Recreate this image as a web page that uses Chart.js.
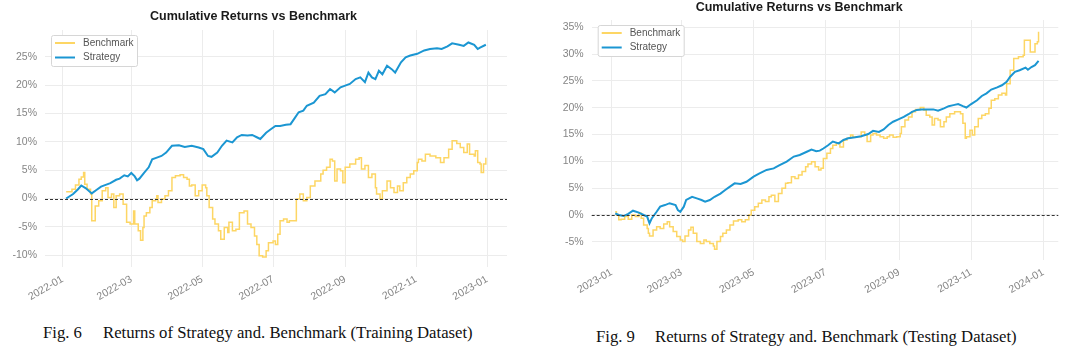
<!DOCTYPE html>
<html>
<head>
<meta charset="utf-8">
<script src="https://cdn.jsdelivr.net/npm/chart.js@4.4.1/dist/chart.umd.min.js"></script>
<style>
  html, body { margin:0; padding:0; background:#fff; }
  body { width:1080px; height:358px; position:relative; overflow:hidden; }
  canvas { position:absolute; top:0; }
  .cap { position:absolute; font-family:"Liberation Serif","Times New Roman",serif; font-size:16.7px; line-height:18px; color:#111; white-space:nowrap; }
</style>
</head>
<body>
<canvas id="trainChart" width="518" height="310" style="left:0"></canvas>
<canvas id="testChart" width="540" height="300" style="left:540px"></canvas>

<div class="cap" style="left:43px; top:324px">Fig. 6</div>
<div class="cap" style="left:103px; top:324px">Returns of Strategy and. Benchmark (Training Dataset)</div>
<div class="cap" style="left:596px; top:328px">Fig. 9</div>
<div class="cap" style="left:655px; top:328px">Returns of Strategy and. Benchmark (Testing Dataset)</div>

<script>
/* ========= Datos (días desde el 1 de enero, retorno acumulado en %) ========= */
const TITLE = 'Cumulative Returns vs Benchmark';
const SERIES_LABELS = ['Benchmark', 'Strategy'];

// --- Fig. 6: 2022 (training)
const trainTickDays   = [0, 59, 120, 181, 243, 304, 365];
const trainTickLabels = ['2022-01','2022-03','2022-05','2022-07','2022-09','2022-11','2023-01'];
const trainYTicks     = [-10, -5, 0, 5, 10, 15, 20, 25];

const trainStrategyDays = [3,9,13,16,20,25,29,33,37,41,46,49,53,56,59,62,64,66,70,74,77,81,85,89,94,100,105,111,117,121,125,128,133,137,141,146,150,154,159,163,167,170,175,179,183,187,192,196,199,203,207,210,216,221,226,230,234,239,243,247,252,256,260,263,266,269,272,275,279,283,286,291,295,299,305,311,316,322,326,331,335,341,345,349,354,357,359,364];
const trainStrategy     = [0,0.8,1.6,2.3,1.8,0.9,1.5,2.1,2.4,2.7,3.3,3.5,4.1,3.9,4.5,3.9,3.2,3.5,4.5,5.5,6.9,7.2,7.5,8.1,9.3,9.4,9.1,9.3,9.0,8.7,7.5,7.35,8.1,9.3,10.2,9.9,10.8,11.2,11.1,11.2,10.8,10.5,11.6,12.2,12.8,12.8,13.0,13.1,14.0,15.2,15.5,16.35,16.9,18.1,18.4,19.3,18.7,19.6,19.9,20.2,21.05,21.35,20.5,22.2,21.35,21.05,22.5,21.9,23.4,22.8,22.2,24.0,24.9,25.2,25.5,26.1,26.35,26.5,26.35,26.8,27.35,27.1,26.9,27.5,27.1,26.35,26.6,27.1];

const trainBenchDays = [3,8,11,14,16,18,19,21,24,25,27,28,31,34,37,39,42,44,46,49,52,55,58,61,62,65,67,69,70,72,75,77,80,81,82,85,88,91,94,97,101,104,107,109,111,114,117,120,123,124,126,129,131,134,136,139,142,143,146,149,152,156,159,162,165,167,169,172,175,177,181,183,185,187,190,193,195,199,201,204,207,210,213,217,222,224,227,230,232,234,236,239,241,243,247,252,255,257,260,263,266,269,270,273,275,279,282,285,288,290,293,296,299,302,305,306,309,312,316,321,325,328,332,335,339,342,345,348,350,354,355,357,359,360,362,364];
const trainBench     = [1.2,1.65,2.4,3.4,3.8,4.6,2.5,1.65,0.8,-3.9,-3.9,-1.3,-0.4,1.35,1.9,0.2,0.8,-1.6,0.5,0.8,-1.0,-4.2,-4.5,-2.2,-4.5,-5.7,-7.35,-5.1,-3.1,-2.5,-1.6,-0.4,-0.1,0.5,-0.7,-0.1,0.5,1.35,3.7,4.0,4.2,3.7,3.4,2.2,2.4,0.5,1.35,2.4,1.9,0.5,-1.6,-3.6,-4.5,-5.7,-7.2,-5.1,-6.0,-4.2,-5.7,-5.4,-2.5,-2.2,-4.5,-5.1,-6.6,-8.1,-10.1,-10.3,-9.2,-7.8,-7.5,-8.1,-6.3,-3.9,-3.6,-4.2,-3.9,-3.9,-0.1,0.8,-0.4,0.2,2.2,3.1,4.3,5.0,5.5,6.9,6.6,3.1,5.2,4.9,2.8,5.5,6.1,6.9,7.2,5.2,5.8,3.7,4.3,1.9,0.8,-0.1,1.35,3.1,1.9,1.05,2.2,1.35,2.8,3.7,4.3,4.9,6.35,6.9,6.6,7.8,7.5,7.2,6.35,7.2,8.7,10.2,9.7,9.0,8.1,9.6,7.8,7.5,8.4,6.35,6.1,4.6,6.1,7.2];

// --- Fig. 9: 2023 (testing)
const testTickDays   = [0, 59, 120, 181, 243, 304, 365];
const testTickLabels = ['2023-01','2023-03','2023-05','2023-07','2023-09','2023-11','2024-01'];
const testYTicks     = [-5, 0, 5, 10, 15, 20, 25, 30, 35];

const testStrategyDays = [3,6,10,14,18,23,27,30,32,34,36,38,41,45,49,54,56,58,61,63,68,72,76,79,83,87,92,96,100,104,109,114,120,125,131,137,142,148,154,159,165,169,173,176,179,183,187,192,196,200,206,211,217,221,226,230,234,238,242,247,251,254,258,262,268,272,276,281,285,289,293,297,300,304,309,313,317,321,326,330,334,337,341,345,350,352,355,358,361];
const testStrategy     = [0.3,0,-0.2,0.2,0.8,0.45,0,-0.3,-1.55,-0.6,0,0.6,1.55,1.85,2.2,1.85,0.9,0.6,1.55,2.8,3.4,3.1,2.8,2.5,2.8,3.4,4.0,4.65,5.3,5.9,5.8,6.2,7.15,7.75,8.4,8.7,9.3,9.95,10.9,11.2,11.8,12.2,11.9,12.0,12.4,13.0,13.7,13.35,14.0,14.3,14.5,14.7,15.1,15.7,15.5,15.95,16.8,17.4,17.8,18.3,18.8,19.25,19.6,19.7,19.7,19.7,19.45,19.9,20.3,20.5,20.7,20.3,20.05,20.7,21.4,22.2,22.7,23.4,23.8,24.2,24.85,25.8,26.7,27.0,27.5,27.1,27.6,27.95,28.75];

const testBenchDays = [3,4,6,8,11,14,17,20,23,25,27,30,31,32,35,38,41,44,47,49,52,55,58,60,62,65,67,69,72,75,78,80,83,86,87,89,92,94,97,100,103,107,110,113,116,118,121,124,127,130,133,135,138,141,144,147,149,152,155,158,161,164,166,169,172,175,177,179,182,185,187,190,193,196,199,202,204,207,211,214,216,219,221,224,227,230,233,235,238,241,244,245,248,251,254,257,261,264,266,269,271,273,276,278,281,283,286,290,295,297,299,300,303,305,307,310,313,316,319,321,324,327,330,333,334,337,340,344,348,349,352,354,357,358,360,361];
const testBench     = [0.6,0,-0.9,-0.8,-0.3,-0.8,0,-0.3,0.3,-0.6,-1.85,-2.5,-3.4,-3.9,-2.8,-2.2,-2.5,-1.7,-1.25,-2.2,-3.1,-4.0,-4.65,-4.95,-3.9,-2.8,-2.3,-3.4,-4.95,-5.3,-4.65,-4.95,-5.3,-5.8,-6.4,-4.95,-4.0,-3.4,-2.8,-1.85,-1.1,-0.9,-1.25,-0.9,0,0.9,1.55,2.2,2.8,2.5,3.4,3.7,2.5,4.0,5.0,5.9,6.0,7.15,6.8,7.45,8.1,9.0,9.5,9.95,9.0,8.4,8.7,10.55,11.5,12.4,13.0,13.35,12.7,14.0,14.3,14.9,14.6,14.6,15.5,14.9,13.7,14.9,15.2,14.9,14.6,14.3,14.6,14.9,14.5,14.6,15.2,16.45,17.7,18.3,19.25,19.7,20.05,19.6,18.6,18.3,16.8,18.0,17.7,16.45,17.4,18.3,18.9,19.25,18.9,17.1,14.3,14.6,15.8,14.9,16.45,18.0,18.6,18.9,19.9,21.4,21.7,22.4,22.7,22.4,24.5,27.0,29.2,29.5,29.8,32.6,32.6,30.4,30.4,31.95,32.3,34.2];

/* ========= Estilos ========= */
const FONT = '"Liberation Sans", Arial, sans-serif';
const BLUE = '#1b96d2';
const YELLOW = '#fdd664';
const GRID = '#ececec';
const TICK = '#858585';

const pts = (xs, ys) => xs.map((x, i) => ({ x, y: ys[i] }));

/* ========= Plugins: línea cero y leyenda dentro del panel ========= */
const zeroLine = {
  id: 'zeroLine',
  afterDatasetsDraw(chart){
    const { ctx, chartArea: a, scales: { y } } = chart;
    const py = Math.round(y.getPixelForValue(0)) + 0.5;
    ctx.save();
    ctx.strokeStyle = '#333';
    ctx.lineWidth = 1;
    ctx.setLineDash([3, 2]);
    ctx.beginPath(); ctx.moveTo(a.left, py); ctx.lineTo(a.right, py); ctx.stroke();
    ctx.restore();
  }
};

const panelLegend = {
  id: 'panelLegend',
  afterDraw(chart, args, opts){
    const { ctx, chartArea: a } = chart;
    const x = a.left + opts.dx, y = a.top + opts.dy;
    ctx.save();
    ctx.fillStyle = '#fff';
    ctx.strokeStyle = '#d6d6d6';
    ctx.lineWidth = 1;
    ctx.beginPath(); ctx.roundRect(x + 0.5, y + 0.5, opts.w, opts.h, 2); ctx.fill(); ctx.stroke();
    ctx.font = '10px ' + FONT;
    ctx.textBaseline = 'middle';
    chart.data.datasets.forEach((ds, i) => {
      const ly = y + opts.row0 + i * opts.rowGap;
      ctx.strokeStyle = ds.borderColor;
      ctx.lineWidth = 2;
      ctx.beginPath(); ctx.moveTo(x + 4, ly); ctx.lineTo(x + 24, ly); ctx.stroke();
      ctx.fillStyle = '#555';
      ctx.fillText(ds.label, x + 32, ly);
    });
    ctx.restore();
  }
};

/* ========= Construcción ========= */
function drawReturnsChart(id, o){
  const ctx = document.getElementById(id).getContext('2d');
  return new Chart(ctx, {
    type: 'line',
    data: {
      datasets: [
        { label: SERIES_LABELS[0], data: pts(o.benchDays, o.bench), borderColor: YELLOW,
          borderWidth: 1.5, pointRadius: 0, stepped: true, order: 1 },
        { label: SERIES_LABELS[1], data: pts(o.stratDays, o.strat), borderColor: BLUE,
          borderWidth: 2, pointRadius: 0, tension: 0, order: 0 }
      ]
    },
    options: {
      responsive: false,
      animation: false,
      layout: { padding: { left: 0, right: o.padRight, top: 0, bottom: 0 } },
      plugins: {
        legend: { display: false },
        tooltip: { enabled: false },
        title: { display: true, text: TITLE, color: '#1a1a1a',
                 font: { family: FONT, size: 12.5, weight: 'bold' }, padding: o.titlePad },
        panelLegend: { dx: 6, dy: 5, w: 86, h: 31, row0: 8, rowGap: 14.5 }
      },
      scales: {
        x: {
          type: 'linear', min: o.xMin, max: o.xMax,
          afterBuildTicks: s => { s.ticks = o.xTicks.map(v => ({ value: v })); },
          afterFit: s => { s.height = o.xAxisH; },
          grid: { color: GRID, drawTicks: false },
          border: { display: false },
          ticks: { autoSkip: false, minRotation: 30, maxRotation: 30, padding: 6, color: TICK,
                   font: { family: FONT, size: 10.5 }, callback: (v, i) => o.xLabels[i] }
        },
        y: {
          min: o.yMin, max: o.yMax,
          afterBuildTicks: s => { s.ticks = o.yTicks.map(v => ({ value: v })); },
          afterFit: s => { s.width = o.yAxisW; },
          grid: { color: GRID, drawTicks: false },
          border: { display: false },
          ticks: { padding: 8, color: TICK, font: { family: FONT, size: 10.5 },
                   callback: v => v + '%' }
        }
      }
    },
    plugins: [zeroLine, panelLegend]
  });
}

drawReturnsChart('trainChart', {
  benchDays: trainBenchDays, bench: trainBench,
  stratDays: trainStrategyDays, strat: trainStrategy,
  xTicks: trainTickDays, xLabels: trainTickLabels, yTicks: trainYTicks,
  xMin: -15.2, xMax: 382.2, yMin: -12.07, yMax: 29.7,
  padRight: 11, yAxisW: 45, xAxisH: 43, titlePad: { top: 9.3, bottom: 5.7 }
});

drawReturnsChart('testChart', {
  benchDays: testBenchDays, bench: testBench,
  stratDays: testStrategyDays, strat: testStrategy,
  xTicks: testTickDays, xLabels: testTickLabels, yTicks: testYTicks,
  xMin: -16.9, xMax: 377.7, yMin: -8.4, yMax: 36.38,
  padRight: 21.7, yAxisW: 51.7, xAxisH: 40, titlePad: { top: 0, bottom: 5 }
});
</script>
</body>
</html>
